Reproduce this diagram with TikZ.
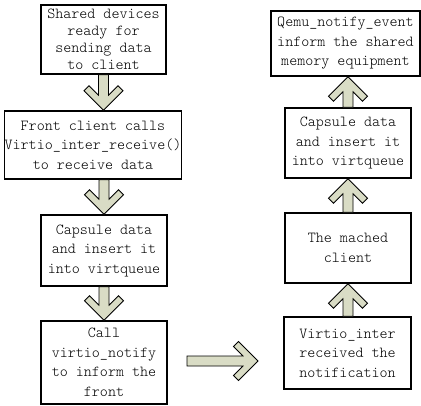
\documentclass[tikz,border=0pt]{standalone}
\usepackage{fontspec}
\setmonofont{Latin Modern Mono Light}
\usetikzlibrary{calc}
\definecolor{arrowfill}{RGB}{217,220,197}
\tikzset{
  box/.style={draw=black, line width=1.5pt, fill=white, inner sep=0pt,
    align=center, font=\ttfamily\fontsize{15.3}{19.5}\selectfont},
  fatarrowline/.style={draw=black, line width=0.8pt, fill=arrowfill, line join=miter},
  fatarrow vec/.code 2 args={%
    \pgfmathsetmacro\arrowlen{veclen(#1,#2)}%
    \pgfmathsetmacro\arrowang{atan2(#2,#1)}%
    \tikzset{rotate=\arrowang}},
  % block arrow with its tip at the origin, pointing along +x
  fatarrow/.pic={
    \path[fatarrowline] (0,0) -- (-19.5,19.5) -- (-24.5,14.5) -- (-15,5)
      -- (-\arrowlen,5) -- (-\arrowlen,-5) -- (-15,-5) -- (-24.5,-14.5)
      -- (-19.5,-19.5) -- cycle;
  }
}
% block arrow from #1 to #2
\newcommand\fatlink[2]{%
  \path let \p1=($(#2)-(#1)$) in pic[fatarrow vec={\x1}{\y1}] at (#2) {fatarrow};}
\begin{document}
\begin{tikzpicture}[x=1pt,y=1pt]
\useasboundingbox[fill=white] (0,0) rectangle (421,-405);

% left column
\node[box, minimum width=125pt, minimum height=69pt,
  font=\ttfamily\fontsize{15.3}{17}\selectfont] (L1) at (103.5,-39.5)
  {Shared devices\\ready for\\sending data\\to client};
\node[box, minimum width=170pt, minimum height=68pt] (L2) at (93,-145)
  {Front client calls\\Virtio\_inter\_receive()\\to receive data};
\node[box, minimum width=126pt, minimum height=71pt] (L3) at (104,-250.5)
  {Capsule data\\and insert it\\into virtqueue};
\node[box, minimum width=126pt, minimum height=83pt] (L4) at (104,-362.5)
  {Call\\virtio\_notify\\to inform the\\front};

% right column
\node[box, minimum width=149pt, minimum height=65pt] (R1) at (345.5,-43.5)
  {Qemu\_notify\_event\\inform the shared\\memory equipment};
\node[box, minimum width=126pt, minimum height=70pt] (R2) at (348,-143)
  {Capsule data\\and insert it\\into virtqueue};
\node[box, minimum width=126pt, minimum height=70pt] (R3) at (348,-248)
  {The mached\\client};
\node[box, minimum width=127pt, minimum height=72pt] (R4) at (347.5,-353)
  {Virtio\_inter\\received the\\notification};

% connectors
\coordinate (h1) at (187,-361);
\coordinate (h2) at (258,-361);
\fatlink{L1.south}{L1.south |- L2.north}
\fatlink{L3.north |- L2.south}{L3.north}
\fatlink{L3.south}{L4.north}
\fatlink{h1}{h2}
\fatlink{R3.south |- R4.north}{R3.south}
\fatlink{R3.north}{R2.south}
\fatlink{R2.north}{R2.north |- R1.south}
\end{tikzpicture}
\end{document}
